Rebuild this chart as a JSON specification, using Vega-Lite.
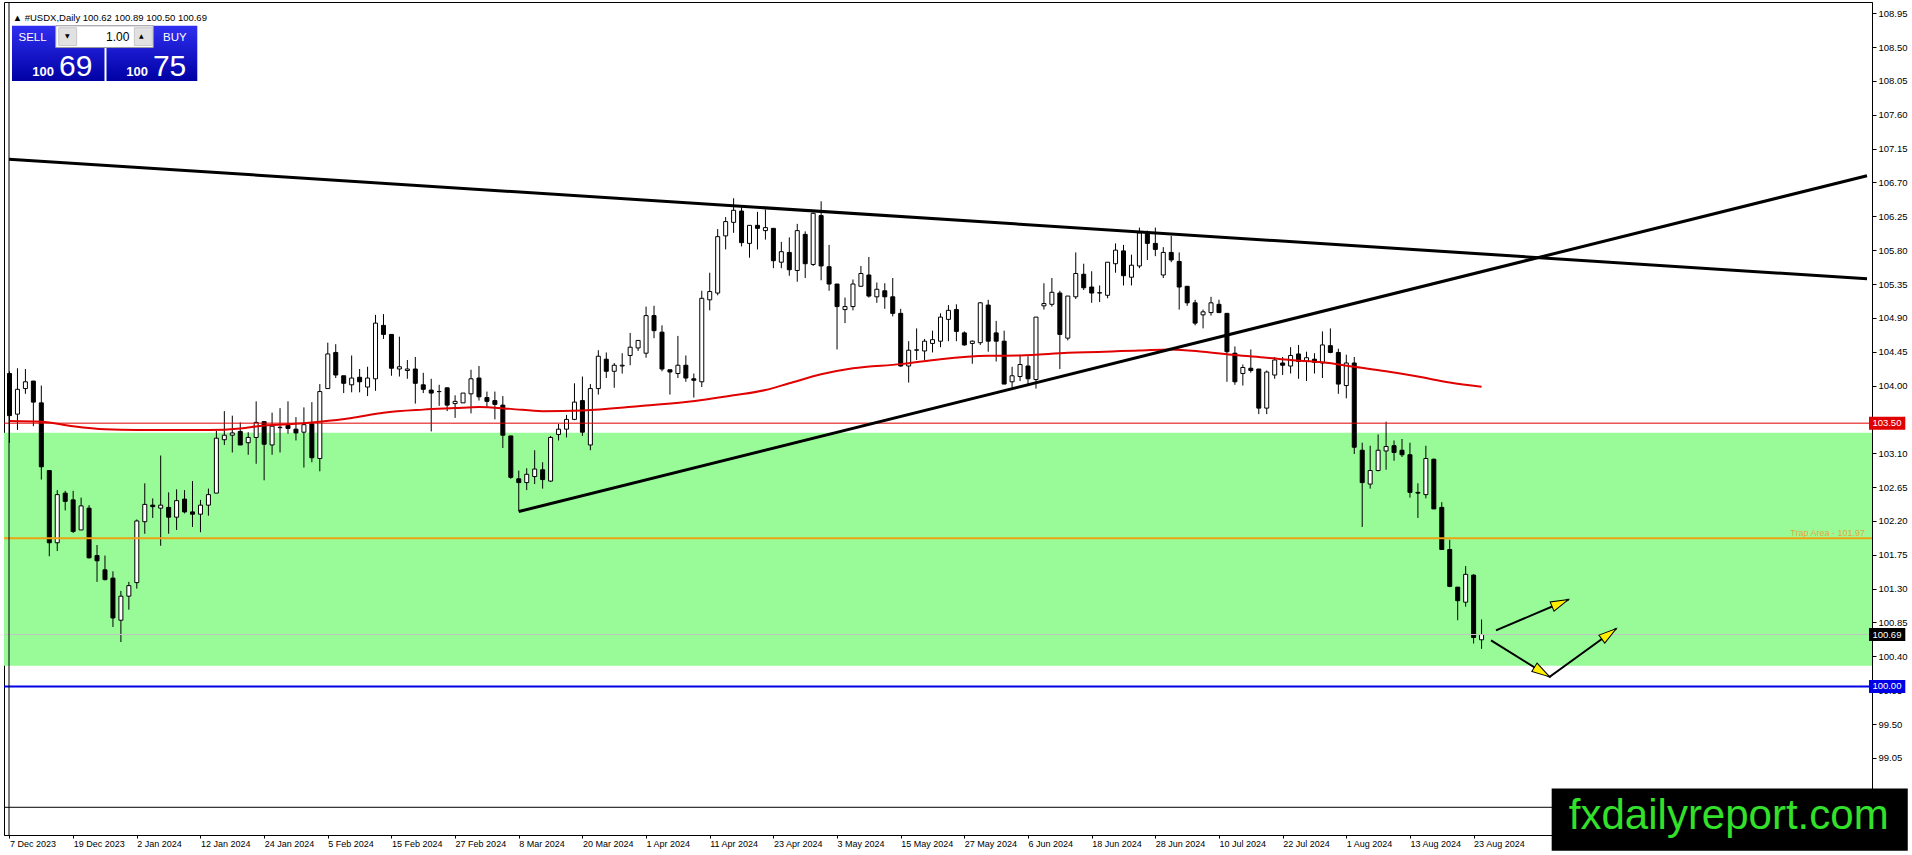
{
"$schema":"https://vega.github.io/schema/vega-lite/v6.json",
"width":1868,"height":833,
"padding":{"left":3,"top":1,"right":0,"bottom":0},
"background":"white",
"config":{"view":{"stroke":"black","strokeWidth":1},"font":"Liberation Sans"},
"resolve":{"axis":{"x":"independent","y":"independent"}},
"datasets":{
"bars":[
{"i":0,"o":104.16,"h":104.19,"l":103.24,"c":103.60,"ma":103.53},
{"i":1,"o":103.62,"h":104.23,"l":103.41,"c":103.95},
{"i":2,"o":103.96,"h":104.22,"l":103.89,"c":104.05},
{"i":3,"o":104.06,"h":104.06,"l":103.46,"c":103.78},
{"i":4,"o":103.77,"h":104.00,"l":102.75,"c":102.92,"ma":103.52},
{"i":5,"o":102.87,"h":102.87,"l":101.73,"c":101.91},
{"i":6,"o":101.91,"h":102.61,"l":101.80,"c":102.55},
{"i":7,"o":102.57,"h":102.60,"l":102.34,"c":102.46},
{"i":8,"o":102.48,"h":102.60,"l":102.04,"c":102.06,"ma":103.46},
{"i":9,"o":102.08,"h":102.51,"l":102.08,"c":102.40},
{"i":10,"o":102.37,"h":102.41,"l":101.70,"c":101.71},
{"i":11,"o":101.74,"h":101.88,"l":101.39,"c":101.67},
{"i":12,"o":101.55,"h":101.74,"l":101.41,"c":101.42,"ma":103.42},
{"i":13,"o":101.44,"h":101.53,"l":100.79,"c":100.91},
{"i":14,"o":100.88,"h":101.27,"l":100.59,"c":101.20},
{"i":15,"o":101.20,"h":101.39,"l":101.02,"c":101.34},
{"i":16,"o":101.38,"h":102.22,"l":101.30,"c":102.20,"ma":103.41},
{"i":17,"o":102.19,"h":102.70,"l":102.03,"c":102.42},
{"i":18,"o":102.41,"h":102.50,"l":102.24,"c":102.39},
{"i":19,"o":102.37,"h":103.07,"l":101.87,"c":102.41},
{"i":20,"o":102.38,"h":102.58,"l":102.03,"c":102.25,"ma":103.41},
{"i":21,"o":102.25,"h":102.62,"l":102.08,"c":102.47},
{"i":22,"o":102.49,"h":102.61,"l":102.30,"c":102.32},
{"i":23,"o":102.32,"h":102.73,"l":102.12,"c":102.29},
{"i":24,"o":102.29,"h":102.48,"l":102.05,"c":102.41},
{"i":25,"o":102.41,"h":102.63,"l":102.27,"c":102.55,"ma":103.41},
{"i":26,"o":102.57,"h":103.40,"l":102.57,"c":103.30},
{"i":27,"o":103.28,"h":103.66,"l":103.21,"c":103.34},
{"i":28,"o":103.34,"h":103.60,"l":103.11,"c":103.37},
{"i":29,"o":103.39,"h":103.51,"l":103.21,"c":103.21,"ma":103.43},
{"i":30,"o":103.24,"h":103.38,"l":103.08,"c":103.31},
{"i":31,"o":103.31,"h":103.79,"l":102.96,"c":103.51},
{"i":32,"o":103.52,"h":103.52,"l":102.74,"c":103.22,"ma":103.47},
{"i":33,"o":103.21,"h":103.64,"l":103.08,"c":103.46},
{"i":34,"o":103.44,"h":103.70,"l":103.11,"c":103.445},
{"i":35,"o":103.47,"h":103.79,"l":103.36,"c":103.43,"ma":103.485},
{"i":36,"o":103.42,"h":103.58,"l":103.27,"c":103.37},
{"i":37,"o":103.38,"h":103.71,"l":102.91,"c":103.48},
{"i":38,"o":103.49,"h":103.78,"l":102.98,"c":103.04},
{"i":39,"o":103.03,"h":104.02,"l":102.86,"c":103.92,"ma":103.52},
{"i":40,"o":103.96,"h":104.57,"l":103.96,"c":104.42},
{"i":41,"o":104.44,"h":104.55,"l":104.10,"c":104.14},
{"i":42,"o":104.13,"h":104.13,"l":103.90,"c":104.03},
{"i":43,"o":104.01,"h":104.40,"l":103.91,"c":104.10,"ma":103.57},
{"i":44,"o":104.11,"h":104.22,"l":103.91,"c":104.05},
{"i":45,"o":103.98,"h":104.25,"l":103.86,"c":104.10},
{"i":46,"o":104.09,"h":104.94,"l":103.93,"c":104.83},
{"i":47,"o":104.80,"h":104.95,"l":104.62,"c":104.68,"ma":103.64},
{"i":48,"o":104.68,"h":104.68,"l":104.13,"c":104.23},
{"i":49,"o":104.22,"h":104.65,"l":104.12,"c":104.25},
{"i":50,"o":104.20,"h":104.34,"l":104.09,"c":104.22},
{"i":51,"o":104.22,"h":104.38,"l":103.76,"c":104.03},
{"i":52,"o":104.01,"h":104.17,"l":103.90,"c":103.95,"ma":103.68},
{"i":53,"o":103.94,"h":104.09,"l":103.39,"c":103.90},
{"i":54,"o":103.92,"h":104.01,"l":103.73,"c":103.92},
{"i":55,"o":103.97,"h":103.97,"l":103.66,"c":103.74},
{"i":56,"o":103.76,"h":103.87,"l":103.57,"c":103.79,"ma":103.70},
{"i":57,"o":103.77,"h":103.90,"l":103.77,"c":103.90},
{"i":58,"o":103.89,"h":104.21,"l":103.63,"c":104.09},
{"i":59,"o":104.10,"h":104.26,"l":103.80,"c":103.85,"ma":103.715},
{"i":60,"o":103.84,"h":103.92,"l":103.71,"c":103.79},
{"i":61,"o":103.80,"h":103.92,"l":103.55,"c":103.75},
{"i":62,"o":103.74,"h":103.86,"l":103.17,"c":103.34},
{"i":63,"o":103.33,"h":103.33,"l":102.76,"c":102.78,"ma":103.69},
{"i":64,"o":102.76,"h":102.87,"l":102.33,"c":102.71},
{"i":65,"o":102.71,"h":102.90,"l":102.61,"c":102.82},
{"i":66,"o":102.79,"h":103.14,"l":102.69,"c":102.89},
{"i":67,"o":102.88,"h":102.98,"l":102.63,"c":102.75,"ma":103.66},
{"i":68,"o":102.73,"h":103.33,"l":102.72,"c":103.31},
{"i":69,"o":103.35,"h":103.49,"l":103.27,"c":103.42},
{"i":70,"o":103.42,"h":103.61,"l":103.31,"c":103.55},
{"i":71,"o":103.55,"h":104.03,"l":103.54,"c":103.78},
{"i":72,"o":103.80,"h":104.12,"l":103.33,"c":103.38,"ma":103.67},
{"i":73,"o":103.21,"h":104.02,"l":103.14,"c":103.96},
{"i":74,"o":103.96,"h":104.47,"l":103.88,"c":104.39},
{"i":75,"o":104.35,"h":104.44,"l":104.10,"c":104.19},
{"i":76,"o":104.19,"h":104.30,"l":103.97,"c":104.27},
{"i":77,"o":104.26,"h":104.43,"l":104.16,"c":104.27},
{"i":78,"o":104.40,"h":104.70,"l":104.27,"c":104.51},
{"i":79,"o":104.50,"h":104.60,"l":104.46,"c":104.60,"ma":103.725},
{"i":80,"o":104.43,"h":105.05,"l":104.37,"c":104.93},
{"i":81,"o":104.93,"h":105.06,"l":104.63,"c":104.73},
{"i":82,"o":104.71,"h":104.80,"l":104.19,"c":104.22},
{"i":83,"o":104.21,"h":104.21,"l":103.88,"c":104.18},
{"i":84,"o":104.16,"h":104.66,"l":104.10,"c":104.27},
{"i":85,"o":104.27,"h":104.40,"l":104.05,"c":104.10,"ma":103.78},
{"i":86,"o":104.09,"h":104.16,"l":103.84,"c":104.07},
{"i":87,"o":104.05,"h":105.26,"l":103.98,"c":105.16},
{"i":88,"o":105.14,"h":105.50,"l":105.00,"c":105.25},
{"i":89,"o":105.23,"h":106.08,"l":105.20,"c":105.98},
{"i":90,"o":105.99,"h":106.24,"l":105.81,"c":106.18},
{"i":91,"o":106.17,"h":106.49,"l":106.03,"c":106.33,"ma":103.87},
{"i":92,"o":106.32,"h":106.40,"l":105.85,"c":105.90},
{"i":93,"o":105.89,"h":106.13,"l":105.70,"c":106.13},
{"i":94,"o":106.13,"h":106.31,"l":105.81,"c":106.09},
{"i":95,"o":106.06,"h":106.34,"l":105.94,"c":106.10,"ma":103.94},
{"i":96,"o":106.09,"h":106.09,"l":105.56,"c":105.66},
{"i":97,"o":105.64,"h":105.91,"l":105.56,"c":105.78},
{"i":98,"o":105.77,"h":105.97,"l":105.46,"c":105.54,"ma":104.03},
{"i":99,"o":105.53,"h":106.15,"l":105.38,"c":106.06},
{"i":100,"o":106.01,"h":106.05,"l":105.43,"c":105.62},
{"i":101,"o":105.61,"h":106.30,"l":105.59,"c":106.29},
{"i":102,"o":106.26,"h":106.45,"l":105.40,"c":105.59,"ma":104.15},
{"i":103,"o":105.58,"h":105.87,"l":105.26,"c":105.35},
{"i":104,"o":105.35,"h":105.35,"l":104.48,"c":105.05},
{"i":105,"o":105.01,"h":105.17,"l":104.83,"c":105.05},
{"i":106,"o":105.05,"h":105.41,"l":105.00,"c":105.35,"ma":104.23},
{"i":107,"o":105.32,"h":105.59,"l":105.32,"c":105.49},
{"i":108,"o":105.47,"h":105.71,"l":105.17,"c":105.19},
{"i":109,"o":105.18,"h":105.37,"l":105.10,"c":105.28},
{"i":110,"o":105.26,"h":105.36,"l":105.02,"c":105.18},
{"i":111,"o":105.18,"h":105.43,"l":104.92,"c":104.96},
{"i":112,"o":104.96,"h":105.02,"l":104.25,"c":104.26,"ma":104.285},
{"i":113,"o":104.26,"h":104.59,"l":104.04,"c":104.47},
{"i":114,"o":104.47,"h":104.76,"l":104.34,"c":104.475},
{"i":115,"o":104.46,"h":104.62,"l":104.34,"c":104.59},
{"i":116,"o":104.56,"h":104.73,"l":104.44,"c":104.61},
{"i":117,"o":104.59,"h":104.96,"l":104.51,"c":104.91,"ma":104.35},
{"i":118,"o":104.88,"h":105.07,"l":104.59,"c":105.00},
{"i":119,"o":105.01,"h":105.08,"l":104.59,"c":104.72},
{"i":120,"o":104.70,"h":104.72,"l":104.53,"c":104.54},
{"i":121,"o":104.56,"h":104.60,"l":104.29,"c":104.59},
{"i":122,"o":104.57,"h":105.11,"l":104.54,"c":105.10},
{"i":123,"o":105.07,"h":105.14,"l":104.45,"c":104.59,"ma":104.395},
{"i":124,"o":104.70,"h":104.86,"l":104.32,"c":104.59},
{"i":125,"o":104.59,"h":104.73,"l":104.02,"c":104.02},
{"i":126,"o":104.05,"h":104.25,"l":103.97,"c":104.13},
{"i":127,"o":104.12,"h":104.41,"l":104.06,"c":104.28,"ma":104.40},
{"i":128,"o":104.26,"h":104.39,"l":104.02,"c":104.09},
{"i":129,"o":104.08,"h":104.91,"l":103.96,"c":104.91},
{"i":130,"o":105.06,"h":105.36,"l":105.01,"c":105.09},
{"i":131,"o":105.08,"h":105.43,"l":105.05,"c":105.24},
{"i":132,"o":105.23,"h":105.26,"l":104.22,"c":104.68},
{"i":133,"o":104.63,"h":105.19,"l":104.60,"c":105.19,"ma":104.435},
{"i":134,"o":105.18,"h":105.77,"l":105.15,"c":105.49},
{"i":135,"o":105.48,"h":105.62,"l":105.27,"c":105.30},
{"i":136,"o":105.31,"h":105.52,"l":105.10,"c":105.23},
{"i":137,"o":105.23,"h":105.33,"l":105.11,"c":105.235},
{"i":138,"o":105.20,"h":105.64,"l":105.16,"c":105.64},
{"i":139,"o":105.62,"h":105.89,"l":105.50,"c":105.80},
{"i":140,"o":105.79,"h":105.87,"l":105.33,"c":105.46},
{"i":141,"o":105.44,"h":105.74,"l":105.33,"c":105.60},
{"i":142,"o":105.59,"h":106.10,"l":105.56,"c":106.03,"ma":104.465},
{"i":143,"o":106.03,"h":106.06,"l":105.67,"c":105.89},
{"i":144,"o":105.89,"h":106.10,"l":105.72,"c":105.81},
{"i":145,"o":105.47,"h":105.84,"l":105.43,"c":105.77},
{"i":146,"o":105.77,"h":105.99,"l":105.64,"c":105.67,"ma":104.48},
{"i":147,"o":105.65,"h":105.77,"l":105.01,"c":105.31},
{"i":148,"o":105.32,"h":105.32,"l":105.06,"c":105.10},
{"i":149,"o":105.10,"h":105.14,"l":104.80,"c":104.83},
{"i":150,"o":104.94,"h":105.01,"l":104.76,"c":104.98,"ma":104.45},
{"i":151,"o":104.97,"h":105.18,"l":104.93,"c":105.10},
{"i":152,"o":105.08,"h":105.14,"l":104.97,"c":104.97},
{"i":153,"o":104.96,"h":104.96,"l":104.05,"c":104.45},
{"i":154,"o":104.43,"h":104.52,"l":104.01,"c":104.05,"ma":104.405},
{"i":155,"o":104.16,"h":104.28,"l":104.00,"c":104.24},
{"i":156,"o":104.23,"h":104.48,"l":104.17,"c":104.20},
{"i":157,"o":104.22,"h":104.22,"l":103.62,"c":103.70},
{"i":158,"o":103.70,"h":104.20,"l":103.62,"c":104.18,"ma":104.37},
{"i":159,"o":104.14,"h":104.38,"l":104.09,"c":104.34},
{"i":160,"o":104.30,"h":104.38,"l":104.14,"c":104.27},
{"i":161,"o":104.26,"h":104.51,"l":104.16,"c":104.40,"ma":104.34},
{"i":162,"o":104.42,"h":104.54,"l":104.09,"c":104.32},
{"i":163,"o":104.32,"h":104.45,"l":104.06,"c":104.37},
{"i":164,"o":104.35,"h":104.43,"l":104.16,"c":104.31},
{"i":165,"o":104.30,"h":104.72,"l":104.10,"c":104.54,"ma":104.31},
{"i":166,"o":104.53,"h":104.76,"l":104.43,"c":104.44},
{"i":167,"o":104.44,"h":104.49,"l":103.89,"c":104.02},
{"i":168,"o":104.00,"h":104.41,"l":103.83,"c":104.30},
{"i":169,"o":104.30,"h":104.38,"l":103.09,"c":103.18,"ma":104.25},
{"i":170,"o":103.14,"h":103.24,"l":102.12,"c":102.71},
{"i":171,"o":102.69,"h":103.20,"l":102.63,"c":102.87},
{"i":172,"o":102.87,"h":103.35,"l":102.86,"c":103.14},
{"i":173,"o":103.13,"h":103.52,"l":102.88,"c":103.19,"ma":104.19},
{"i":174,"o":103.20,"h":103.27,"l":103.00,"c":103.11},
{"i":175,"o":103.14,"h":103.29,"l":103.05,"c":103.08},
{"i":176,"o":103.08,"h":103.24,"l":102.51,"c":102.58},
{"i":177,"o":102.58,"h":102.70,"l":102.24,"c":102.57,"ma":104.12},
{"i":178,"o":102.55,"h":103.20,"l":102.50,"c":103.03},
{"i":179,"o":103.02,"h":103.03,"l":102.36,"c":102.36},
{"i":180,"o":102.38,"h":102.45,"l":101.82,"c":101.82},
{"i":181,"o":101.82,"h":101.95,"l":101.32,"c":101.33,"ma":104.04},
{"i":182,"o":101.32,"h":101.32,"l":100.88,"c":101.14},
{"i":183,"o":101.12,"h":101.60,"l":101.06,"c":101.49},
{"i":184,"o":101.48,"h":101.49,"l":100.57,"c":100.65},
{"i":185,"o":100.62,"h":100.89,"l":100.50,"c":100.69,"ma":103.985}
],
"zone":[{"p0":100.276,"p1":103.371}],
"levels":[
{"kind":"res","p":103.5,"t":"103.50"},
{"kind":"trap","p":101.97,"t":"Trap Area - 101.97"},
{"kind":"bid","p":100.69,"t":"100.69"},
{"kind":"sup","p":100.0,"t":"100.00"}
],
"frame":[{"sub":98.393,"left":-0.0625}],
"trend":[
{"id":"upper","i":-0.0625,"p":107.01},
{"id":"upper","i":233.4375,"p":105.42},
{"id":"lower","i":64,"p":102.325},
{"id":"lower","i":233.4375,"p":106.79}
],
"arrows":[
{"id":"a1","k":0,"i":186.81,"p":100.744},
{"id":"a1","k":1,"i":195.94,"p":101.156},
{"id":"a2","k":0,"i":186.19,"p":100.613},
{"id":"a2","k":1,"i":193.56,"p":100.127},
{"id":"a2","k":2,"i":201.94,"p":100.77}
],
"panel":[
{"part":"sell","i0":0.3125,"i1":11.94,"p0":108.048,"p1":108.783},
{"part":"buy","i0":12.19,"i1":23.6,"p0":108.048,"p1":108.783},
{"part":"lot","i0":5.81,"i1":18.06,"p0":108.494,"p1":108.783},
{"part":"btn","i0":6.19,"i1":8.44,"p0":108.52,"p1":108.757},
{"part":"btn","i0":15.69,"i1":17.94,"p0":108.52,"p1":108.757}
],
"ptext":[
{"role":"hdr","t":"▲ #USDX,Daily  100.62 100.89 100.50 100.69","i":0.4,"p":108.849},
{"role":"lbl","t":"SELL","i":2.9,"p":108.577},
{"role":"lbl","t":"BUY","i":20.775,"p":108.577},
{"role":"lot","t":"1.00","i":15.06,"p":108.577},
{"role":"btn","t":"▼","i":7.275,"p":108.645},
{"role":"btn","t":"▲","i":16.56,"p":108.645},
{"role":"small","t":"100","i":5.6,"p":108.117},
{"role":"small","t":"100","i":17.4,"p":108.117},
{"role":"big","t":"69","i":6.225,"p":108.117},
{"role":"big","t":"75","i":18.025,"p":108.117}
],
"brand":[{"t":"fxdailyreport.com"}]
},
"layer":[
{"data":{"name":"zone"},"mark":{"type":"rect","fill":"#98fb98"},
 "encoding":{"y":{"field":"p0","type":"quantitative","scale":{"domain":[98.091,109.033],"nice":false,"zero":false},"axis":null},"y2":{"field":"p1"}}},
{"data":{"name":"bars"},"mark":{"type":"rule","color":"black","strokeWidth":1,"clip":true},
 "encoding":{
  "x":{"field":"i","type":"quantitative","scale":{"domain":[-0.0625,233.4375],"nice":false,"zero":false},
   "axis":{"orient":"bottom","values":[0,8,16,24,32,40,48,56,64,72,80,88,96,104,112,120,128,136,144,152,160,168,176,184],
    "labelExpr":"['7 Dec 2023','19 Dec 2023','2 Jan 2024','12 Jan 2024','24 Jan 2024','5 Feb 2024','15 Feb 2024','27 Feb 2024','8 Mar 2024','20 Mar 2024','1 Apr 2024','11 Apr 2024','23 Apr 2024','3 May 2024','15 May 2024','27 May 2024','6 Jun 2024','18 Jun 2024','28 Jun 2024','10 Jul 2024','22 Jul 2024','1 Aug 2024','13 Aug 2024','23 Aug 2024'][datum.value/8]",
    "title":null,"grid":false,"domainColor":"black","domainWidth":1,"tickColor":"black","tickSize":3,"labelPadding":1,"labelAlign":"left","labelDx":0,
    "labelFont":"Liberation Sans","labelFontSize":9,"labelColor":"black","labelOverlap":false,"labelBound":false,"labelFlush":false}},
  "y":{"field":"l","type":"quantitative","scale":{"domain":[98.091,109.033],"nice":false,"zero":false},
   "axis":{"orient":"right","values":[108.95,108.5,108.05,107.6,107.15,106.7,106.25,105.8,105.35,104.9,104.45,104.0,103.1,102.65,102.2,101.75,101.3,100.85,100.4,99.95,99.5,99.05],
    "format":".2f","title":null,"grid":false,"domainColor":"black","tickColor":"black","tickSize":4,"labelPadding":2,
    "labelFont":"Liberation Sans","labelFontSize":9.5,"labelColor":"black","labelOverlap":false,"labelFlush":false,"labelBound":false}},
  "y2":{"field":"h"}}},
{"data":{"name":"bars"},"mark":{"type":"bar","width":4,"stroke":"black","strokeWidth":1,"clip":true},
 "encoding":{
  "x":{"field":"i","type":"quantitative","scale":{"domain":[-0.0625,233.4375],"nice":false,"zero":false},"axis":null},
  "y":{"field":"o","type":"quantitative","scale":{"domain":[98.091,109.033],"nice":false,"zero":false},"axis":null},
  "y2":{"field":"c"},
  "fill":{"condition":{"test":"datum.c >= datum.o","value":"white"},"value":"black"}}},
{"data":{"name":"bars"},"transform":[{"filter":"isValid(datum.ma)"}],"mark":{"type":"line","stroke":"#e00000","strokeWidth":2,"interpolate":"monotone"},
 "encoding":{
  "x":{"field":"i","type":"quantitative","scale":{"domain":[-0.0625,233.4375],"nice":false,"zero":false},"axis":null},
  "y":{"field":"ma","type":"quantitative","scale":{"domain":[98.091,109.033],"nice":false,"zero":false},"axis":null}}},
{"data":{"name":"levels"},"transform":[{"filter":"datum.kind == 'res'"}],"mark":{"type":"rule","stroke":"#e00000","strokeWidth":1},
 "encoding":{"y":{"field":"p","type":"quantitative","scale":{"domain":[98.091,109.033],"nice":false,"zero":false},"axis":null}}},
{"data":{"name":"levels"},"transform":[{"filter":"datum.kind == 'bid'"}],"mark":{"type":"rule","stroke":"#c4c4c4","strokeWidth":1},
 "encoding":{"y":{"field":"p","type":"quantitative","scale":{"domain":[98.091,109.033],"nice":false,"zero":false},"axis":null}}},
{"data":{"name":"levels"},"transform":[{"filter":"datum.kind == 'trap'"}],"mark":{"type":"rule","stroke":"#eda311","strokeWidth":2},
 "encoding":{"y":{"field":"p","type":"quantitative","scale":{"domain":[98.091,109.033],"nice":false,"zero":false},"axis":null}}},
{"data":{"name":"levels"},"transform":[{"filter":"datum.kind == 'sup'"}],"mark":{"type":"rule","stroke":"#0000e6","strokeWidth":2},
 "encoding":{"y":{"field":"p","type":"quantitative","scale":{"domain":[98.091,109.033],"nice":false,"zero":false},"axis":null}}},
{"data":{"name":"levels"},"transform":[{"filter":"datum.kind == 'trap'"}],"mark":{"type":"text","fill":"#e6a83a","font":"Liberation Sans","fontSize":9,"align":"right","baseline":"alphabetic","dy":-2},
 "encoding":{"x":{"datum":233.19,"type":"quantitative","scale":{"domain":[-0.0625,233.4375],"nice":false,"zero":false},"axis":null},
  "y":{"field":"p","type":"quantitative","scale":{"domain":[98.091,109.033],"nice":false,"zero":false},"axis":null},"text":{"field":"t"}}},
{"data":{"name":"frame"},"mark":{"type":"rule","stroke":"black","strokeWidth":1},
 "encoding":{"y":{"field":"sub","type":"quantitative","scale":{"domain":[98.091,109.033],"nice":false,"zero":false},"axis":null}}},
{"data":{"name":"frame"},"mark":{"type":"rule","stroke":"black","strokeWidth":1},
 "encoding":{"x":{"field":"left","type":"quantitative","scale":{"domain":[-0.0625,233.4375],"nice":false,"zero":false},"axis":null}}},
{"data":{"name":"trend"},"mark":{"type":"line","stroke":"black","strokeWidth":3},
 "encoding":{"x":{"field":"i","type":"quantitative","scale":{"domain":[-0.0625,233.4375],"nice":false,"zero":false},"axis":null},
  "y":{"field":"p","type":"quantitative","scale":{"domain":[98.091,109.033],"nice":false,"zero":false},"axis":null},
  "detail":{"field":"id"}}},
{"data":{"name":"arrows"},"mark":{"type":"line","stroke":"black","strokeWidth":2},
 "encoding":{"x":{"field":"i","type":"quantitative","scale":{"domain":[-0.0625,233.4375],"nice":false,"zero":false},"axis":null},
  "y":{"field":"p","type":"quantitative","scale":{"domain":[98.091,109.033],"nice":false,"zero":false},"axis":null},
  "detail":{"field":"id"},"order":{"field":"k"}}},
{"data":{"name":"arrows"},"transform":[{"filter":"datum.id == 'a1' && datum.k == 1"}],
 "mark":{"type":"point","shape":"M0,0L0.55,2L-0.55,2Z","size":324,"filled":true,"fill":"#ffee00","stroke":"black","strokeWidth":1,"opacity":1,"angle":66.8},
 "encoding":{"x":{"field":"i","type":"quantitative","scale":{"domain":[-0.0625,233.4375],"nice":false,"zero":false},"axis":null},
  "y":{"field":"p","type":"quantitative","scale":{"domain":[98.091,109.033],"nice":false,"zero":false},"axis":null}}},
{"data":{"name":"arrows"},"transform":[{"filter":"datum.id == 'a2' && datum.k == 1"}],
 "mark":{"type":"point","shape":"M0,0L0.55,2L-0.55,2Z","size":324,"filled":true,"fill":"#ffee00","stroke":"black","strokeWidth":1,"opacity":1,"angle":122.1},
 "encoding":{"x":{"field":"i","type":"quantitative","scale":{"domain":[-0.0625,233.4375],"nice":false,"zero":false},"axis":null},
  "y":{"field":"p","type":"quantitative","scale":{"domain":[98.091,109.033],"nice":false,"zero":false},"axis":null}}},
{"data":{"name":"arrows"},"transform":[{"filter":"datum.id == 'a2' && datum.k == 2"}],
 "mark":{"type":"point","shape":"M0,0L0.55,2L-0.55,2Z","size":324,"filled":true,"fill":"#ffee00","stroke":"black","strokeWidth":1,"opacity":1,"angle":53.8},
 "encoding":{"x":{"field":"i","type":"quantitative","scale":{"domain":[-0.0625,233.4375],"nice":false,"zero":false},"axis":null},
  "y":{"field":"p","type":"quantitative","scale":{"domain":[98.091,109.033],"nice":false,"zero":false},"axis":null}}},
{"data":{"name":"panel"},"transform":[{"filter":"datum.part == 'sell' || datum.part == 'buy'"}],
 "mark":{"type":"rect","fill":{"gradient":"linear","x1":0,"y1":0,"x2":0,"y2":1,"stops":[{"offset":0,"color":"#2f2ff0"},{"offset":1,"color":"#0000a4"}]}},
 "encoding":{"x":{"field":"i0","type":"quantitative","scale":{"domain":[-0.0625,233.4375],"nice":false,"zero":false},"axis":null},"x2":{"field":"i1"},
  "y":{"field":"p0","type":"quantitative","scale":{"domain":[98.091,109.033],"nice":false,"zero":false},"axis":null},"y2":{"field":"p1"}}},
{"data":{"name":"panel"},"transform":[{"filter":"datum.part == 'lot'"}],
 "mark":{"type":"rect","fill":"white","stroke":"#9a9a9a","strokeWidth":1},
 "encoding":{"x":{"field":"i0","type":"quantitative","scale":{"domain":[-0.0625,233.4375],"nice":false,"zero":false},"axis":null},"x2":{"field":"i1"},
  "y":{"field":"p0","type":"quantitative","scale":{"domain":[98.091,109.033],"nice":false,"zero":false},"axis":null},"y2":{"field":"p1"}}},
{"data":{"name":"panel"},"transform":[{"filter":"datum.part == 'btn'"}],
 "mark":{"type":"rect","fill":"#e1e1e1","stroke":"#c8c8c8","strokeWidth":1},
 "encoding":{"x":{"field":"i0","type":"quantitative","scale":{"domain":[-0.0625,233.4375],"nice":false,"zero":false},"axis":null},"x2":{"field":"i1"},
  "y":{"field":"p0","type":"quantitative","scale":{"domain":[98.091,109.033],"nice":false,"zero":false},"axis":null},"y2":{"field":"p1"}}},
{"data":{"name":"ptext"},"transform":[{"filter":"datum.role == 'hdr'"}],
 "mark":{"type":"text","fill":"black","font":"Liberation Sans","fontSize":9.5,"align":"left","baseline":"alphabetic"},
 "encoding":{"x":{"field":"i","type":"quantitative","scale":{"domain":[-0.0625,233.4375],"nice":false,"zero":false},"axis":null},
  "y":{"field":"p","type":"quantitative","scale":{"domain":[98.091,109.033],"nice":false,"zero":false},"axis":null},"text":{"field":"t"}}},
{"data":{"name":"ptext"},"transform":[{"filter":"datum.role == 'lbl'"}],
 "mark":{"type":"text","fill":"white","font":"Liberation Sans","fontSize":11.5,"align":"center","baseline":"alphabetic"},
 "encoding":{"x":{"field":"i","type":"quantitative","scale":{"domain":[-0.0625,233.4375],"nice":false,"zero":false},"axis":null},
  "y":{"field":"p","type":"quantitative","scale":{"domain":[98.091,109.033],"nice":false,"zero":false},"axis":null},"text":{"field":"t"}}},
{"data":{"name":"ptext"},"transform":[{"filter":"datum.role == 'lot'"}],
 "mark":{"type":"text","fill":"black","font":"Liberation Sans","fontSize":12,"align":"right","baseline":"alphabetic"},
 "encoding":{"x":{"field":"i","type":"quantitative","scale":{"domain":[-0.0625,233.4375],"nice":false,"zero":false},"axis":null},
  "y":{"field":"p","type":"quantitative","scale":{"domain":[98.091,109.033],"nice":false,"zero":false},"axis":null},"text":{"field":"t"}}},
{"data":{"name":"ptext"},"transform":[{"filter":"datum.role == 'btn'"}],
 "mark":{"type":"text","fill":"black","font":"DejaVu Sans","fontSize":6,"align":"center","baseline":"middle"},
 "encoding":{"x":{"field":"i","type":"quantitative","scale":{"domain":[-0.0625,233.4375],"nice":false,"zero":false},"axis":null},
  "y":{"field":"p","type":"quantitative","scale":{"domain":[98.091,109.033],"nice":false,"zero":false},"axis":null},"text":{"field":"t"}}},
{"data":{"name":"ptext"},"transform":[{"filter":"datum.role == 'small'"}],
 "mark":{"type":"text","fill":"white","font":"Liberation Sans","fontSize":13,"fontWeight":"bold","align":"right","baseline":"alphabetic"},
 "encoding":{"x":{"field":"i","type":"quantitative","scale":{"domain":[-0.0625,233.4375],"nice":false,"zero":false},"axis":null},
  "y":{"field":"p","type":"quantitative","scale":{"domain":[98.091,109.033],"nice":false,"zero":false},"axis":null},"text":{"field":"t"}}},
{"data":{"name":"ptext"},"transform":[{"filter":"datum.role == 'big'"}],
 "mark":{"type":"text","fill":"white","font":"Liberation Sans","fontSize":30,"align":"left","baseline":"alphabetic"},
 "encoding":{"x":{"field":"i","type":"quantitative","scale":{"domain":[-0.0625,233.4375],"nice":false,"zero":false},"axis":null},
  "y":{"field":"p","type":"quantitative","scale":{"domain":[98.091,109.033],"nice":false,"zero":false},"axis":null},"text":{"field":"t"}}},
{"data":{"name":"levels"},"transform":[{"filter":"datum.kind != 'trap'"}],
 "mark":{"type":"bar","height":13},
 "encoding":{"x":{"datum":233.69,"type":"quantitative","scale":{"domain":[-0.0625,233.4375],"nice":false,"zero":false},"axis":null},"x2":{"datum":238.25},
  "y":{"field":"p","type":"quantitative","scale":{"domain":[98.091,109.033],"nice":false,"zero":false},"axis":null},
  "fill":{"field":"kind","type":"nominal","scale":{"domain":["res","bid","sup"],"range":["#e00000","#000000","#0000e6"]},"legend":null}}},
{"data":{"name":"levels"},"transform":[{"filter":"datum.kind != 'trap'"}],
 "mark":{"type":"text","fill":"white","font":"Liberation Sans","fontSize":9.5,"align":"center","baseline":"middle"},
 "encoding":{"x":{"datum":235.94,"type":"quantitative","scale":{"domain":[-0.0625,233.4375],"nice":false,"zero":false},"axis":null},
  "y":{"field":"p","type":"quantitative","scale":{"domain":[98.091,109.033],"nice":false,"zero":false},"axis":null},"text":{"field":"t"}}},
{"data":{"name":"brand"},"mark":{"type":"rect","fill":"black"},
 "encoding":{"x":{"datum":193.81,"type":"quantitative","scale":{"domain":[-0.0625,233.4375],"nice":false,"zero":false},"axis":null},"x2":{"datum":238.56},
  "y":{"datum":98.643,"type":"quantitative","scale":{"domain":[98.091,109.033],"nice":false,"zero":false},"axis":null},"y2":{"datum":97.815}}},
{"data":{"name":"brand"},"mark":{"type":"text","fill":"#33e02a","font":"Liberation Sans","fontSize":42,"align":"center","baseline":"alphabetic"},
 "encoding":{"x":{"datum":216.06,"type":"quantitative","scale":{"domain":[-0.0625,233.4375],"nice":false,"zero":false},"axis":null},
  "y":{"datum":98.104,"type":"quantitative","scale":{"domain":[98.091,109.033],"nice":false,"zero":false},"axis":null},"text":{"field":"t"}}}
]
}
